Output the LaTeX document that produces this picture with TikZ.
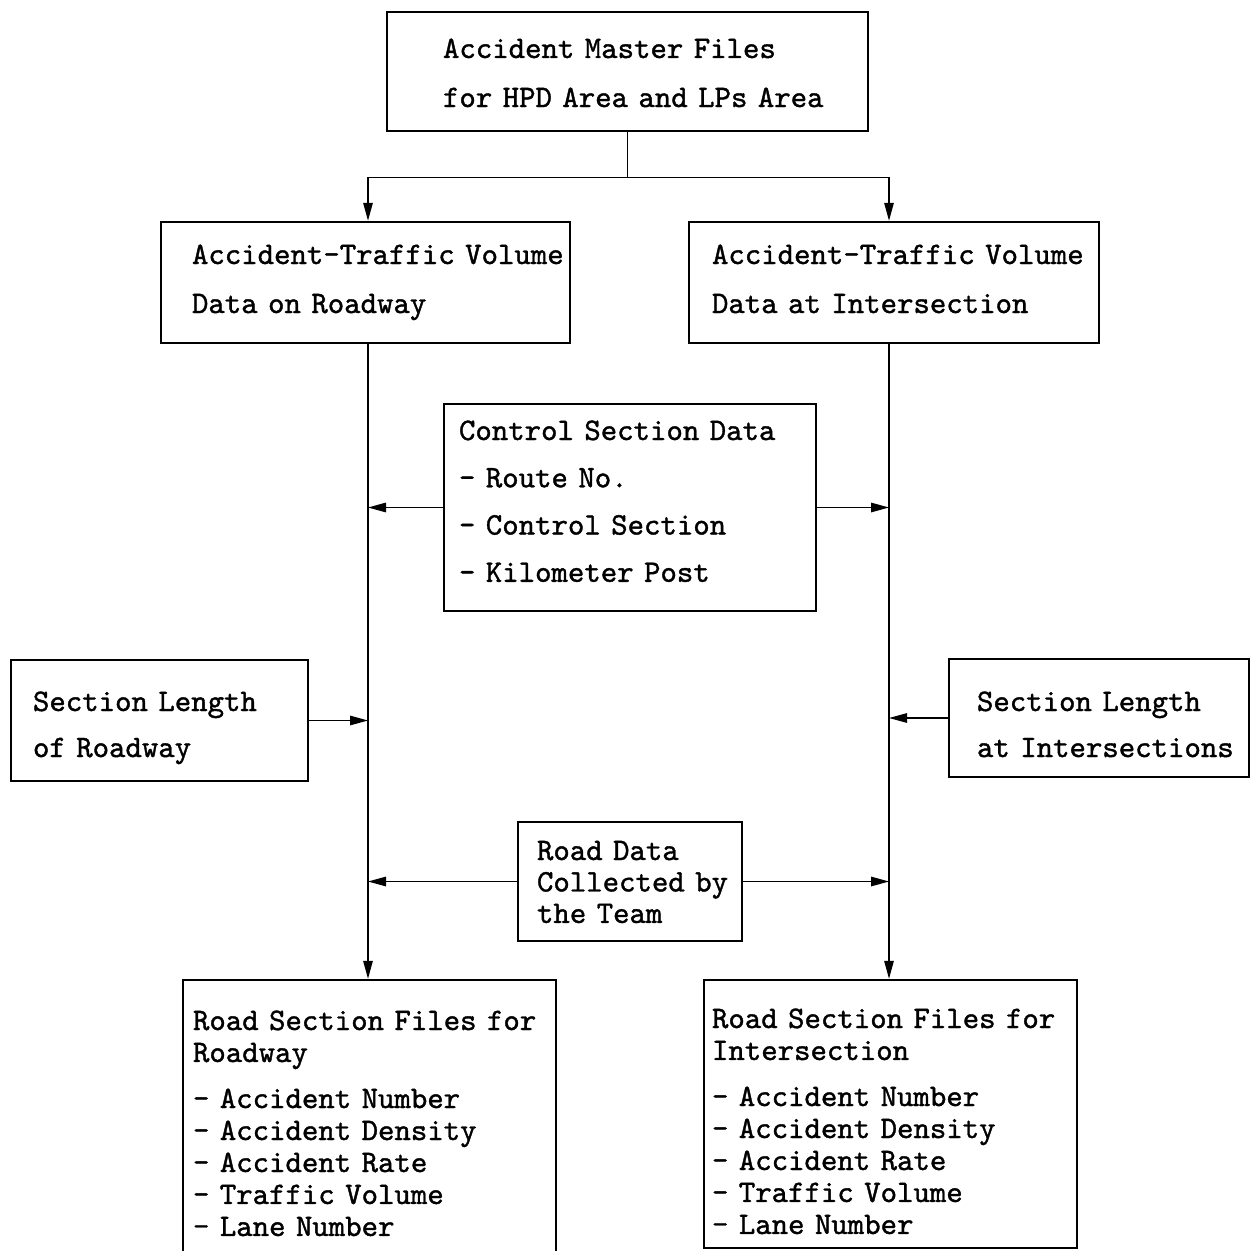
\documentclass[tikz,border=0pt]{standalone}
\usepackage{fontspec}
\usepackage{tikz}
\usetikzlibrary{arrows.meta, positioning, calc}
\newfontfamily\tymono{lmmono10-regular.otf}[FakeBold=1.2]
\tikzset{
    box/.style={rectangle, draw=black, line width=1.4pt, align=left, inner xsep=0.1cm, text height=0pt,
        font=\tymono\fontsize{17.8}{27.9}\selectfont},
    boxtight/.style={box, font=\tymono\fontsize{17.8}{17.9}\selectfont},
    lpad/.style={execute at begin node={\leftskip=#1}},
    line/.style={line width=0.8pt, color=black},
    arrow/.style={-{Triangle[length=3.6mm, width=1.9mm]}, line width=0.8pt, color=black}
}

\begin{document}
\begin{tikzpicture}

    \useasboundingbox (0,0) rectangle (25.06,-25.0);

    % Source
    \node (master) [box, text width=9.42cm, lpad=1.02cm, text depth=0.54cm, minimum height=2.38cm] at (12.55,-1.43)
        {Accident Master Files\\for HPD Area and LPs Area};

    % Accident data
    \node (accL) [box, text width=7.98cm, lpad=0.52cm, text depth=0.74cm, minimum height=2.42cm] at (7.31,-5.65)
        {Accident-Traffic Volume\\Data on Roadway};
    \node (accR) [box, text width=8.00cm, lpad=0.36cm, text depth=0.74cm, minimum height=2.42cm] at (17.88,-5.65)
        {Accident-Traffic Volume\\Data at Intersection};

    % Side inputs
    \node (ctrl) [box, font=\tymono\fontsize{17.8}{26.9}\selectfont, text width=7.24cm, lpad=0.20cm, text depth=2.70cm, minimum height=4.14cm] at (12.60,-10.15)
        {Control Section Data\\- Route No.\\- Control Section\\- Kilometer Post};
    \node (secL) [box, font=\tymono\fontsize{17.8}{26.2}\selectfont, text width=5.74cm, lpad=0.34cm, text depth=0.38cm, minimum height=2.42cm] at (3.19,-14.41)
        {Section Length\\of Roadway};
    \node (secR) [box, font=\tymono\fontsize{17.8}{26.2}\selectfont, text width=5.80cm, lpad=0.46cm, text depth=0.28cm, minimum height=2.36cm] at (21.98,-14.36)
        {Section Length\\at Intersections};
    \node (road) [boxtight, text width=4.28cm, lpad=0.28cm, text depth=0.86cm, minimum height=2.38cm] at (12.60,-17.63)
        {Road Data\\Collected by\\the Team};

    % Outputs
    \node (filesL) [boxtight, font=\tymono\fontsize{17.8}{18.2}\selectfont, text width=7.26cm, lpad=0.10cm, text depth=3.72cm, minimum height=5.72cm] at (7.39,-22.46)
        {Road Section Files for\\Roadway\\[8pt]- Accident Number\\- Accident Density\\- Accident Rate\\- Traffic Volume\\- Lane Number};
    \node (filesR) [boxtight, font=\tymono\fontsize{17.8}{18.2}\selectfont, text width=7.26cm, lpad=0.06cm, text depth=3.44cm, minimum height=5.36cm] at (17.81,-22.28)
        {Road Section Files for\\Intersection\\[8pt]- Accident Number\\- Accident Density\\- Accident Rate\\- Traffic Volume\\- Lane Number};

    % Lanes
    \coordinate (laneL) at (7.36,0);
    \coordinate (laneR) at (17.78,0);
    \coordinate (split) at ($(master.south)+(0,-0.9)$);

    % Paths: split
    \draw [arrow] (master.south) |- (split -| laneL) -- (accL.north -| laneL);
    \draw [arrow] (master.south) |- (split -| laneR) -- (accR.north -| laneR);

    % Paths: lanes
    \draw [arrow] (accL.south -| laneL) -- (filesL.north -| laneL);
    \draw [arrow] (accR.south -| laneR) -- (filesR.north -| laneR);

    % Paths: side inputs
    \draw [arrow] (ctrl.west) -- (ctrl.west -| laneL);
    \draw [arrow] (ctrl.east) -- (ctrl.east -| laneR);
    \draw [arrow] (secL.east) -- (secL.east -| laneL);
    \draw [arrow] (secR.west) -- (secR.west -| laneR);
    \draw [arrow] (road.west) -- (road.west -| laneL);
    \draw [arrow] (road.east) -- (road.east -| laneR);

\end{tikzpicture}
\end{document}
